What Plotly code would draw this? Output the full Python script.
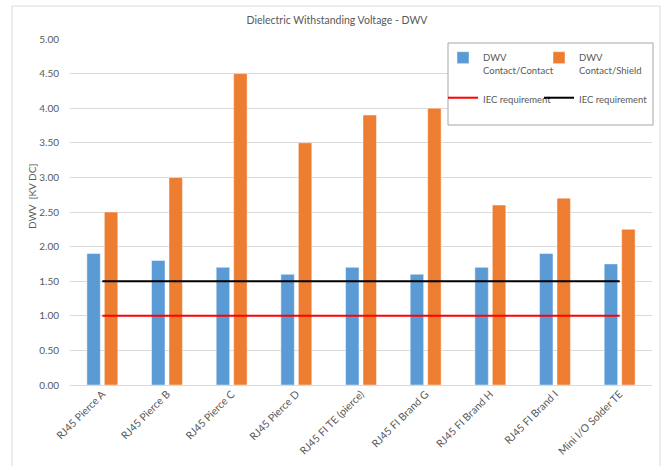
import plotly.graph_objects as go

categories = ["RJ45 Pierce A", "RJ45 Pierce B", "RJ45 Pierce C", "RJ45 Pierce D",
              "RJ45 FI TE (pierce)", "RJ45 FI Brand G", "RJ45 FI Brand H",
              "RJ45 FI Brand I", "Mini I/O Solder TE"]
dwv_contact_contact = [1.9, 1.8, 1.7, 1.6, 1.7, 1.6, 1.7, 1.9, 1.75]
dwv_contact_shield = [2.5, 3.0, 4.5, 3.5, 3.9, 4.0, 2.6, 2.7, 2.25]
iec_req_red = [1.0] * len(categories)
iec_req_black = [1.5] * len(categories)
y_ticks = [0, 0.5, 1.0, 1.5, 2.0, 2.5, 3.0, 3.5, 4.0, 4.5, 5.0]

FONT = "Lato, Carlito, Calibri, sans-serif"
GREY = "#595959"

W, H = 662, 466
L, R, T, B = 70, 10, 39, 81
pw, ph = W - L - R, H - T - B

def px_x(px):
    return (px - L) / pw

def px_y(py):
    return (H - B - py) / ph

fig = go.Figure()
fig.add_trace(go.Bar(x=categories, y=dwv_contact_contact,
                     name="DWV<br>Contact/Contact<br> ", legend="legend",
                     marker=dict(color="#5B9BD5", line=dict(color="rgba(255,255,255,0.45)", width=1))))
fig.add_trace(go.Bar(x=categories, y=dwv_contact_shield,
                     name="DWV<br>Contact/Shield<br> ", legend="legend2",
                     marker=dict(color="#ED7D31", line=dict(color="rgba(255,255,255,0.45)", width=1))))
fig.add_trace(go.Scatter(x=categories, y=iec_req_red, mode="lines", legend="legend",
                         name="IEC requirement", line=dict(color="#FF0000", width=2)))
fig.add_trace(go.Scatter(x=categories, y=iec_req_black, mode="lines", legend="legend2",
                         name="IEC requirement", line=dict(color="#000000", width=2)))

leg_common = dict(orientation="v", xanchor="left", yanchor="top", xref="paper", yref="paper",
                  bgcolor="rgba(0,0,0,0)", borderwidth=0, valign="top",
                  font=dict(family=FONT, size=9.5, color=GREY), itemwidth=30,
                  traceorder="normal", tracegroupgap=0)

fig.update_layout(
    width=W, height=H,
    margin=dict(l=L, r=R, t=T, b=B, autoexpand=False),
    paper_bgcolor="white", plot_bgcolor="white",
    font=dict(family=FONT, size=10, color=GREY),
    barmode="group", bargap=0.46, bargroupgap=0.23,
    title=dict(text="Dielectric Withstanding Voltage - DWV", x=337 / W, xanchor="center",
               y=(H - 20) / H, yanchor="middle", yref="container",
               font=dict(family=FONT, size=10.5, color=GREY)),
    showlegend=True,
    legend=dict(x=px_x(443), y=px_y(45), **leg_common),
    legend2=dict(x=px_x(539), y=px_y(45), **leg_common),
    xaxis=dict(type="category", tickangle=-45, showgrid=False, showline=False,
               ticks="", automargin=False, tickfont=dict(family=FONT, size=10.5, color=GREY)),
    yaxis=dict(range=[0, 5], tickvals=y_ticks, tickformat=".2f",
               showgrid=True, gridcolor="#D9D9D9", gridwidth=1,
               zeroline=True, zerolinecolor="#D9D9D9", zerolinewidth=1,
               showline=False, ticks="", ticklabelstandoff=10, automargin=False,
               tickfont=dict(family=FONT, size=10, color=GREY)),
    annotations=[dict(text="DWV  [KV DC]", textangle=-90, xref="paper", yref="paper",
                      x=px_x(32), y=px_y(197), xanchor="center", yanchor="middle",
                      showarrow=False, font=dict(family=FONT, size=10, color=GREY))],
    shapes=[
        dict(type="rect", xref="paper", yref="paper",
             x0=px_x(12), x1=px_x(660), y0=px_y(470), y1=px_y(6),
             line=dict(color="#D9D9D9", width=1), layer="below"),
        dict(type="rect", xref="paper", yref="paper",
             x0=px_x(448), x1=px_x(653), y0=px_y(125), y1=px_y(43),
             line=dict(color="#A6A6A6", width=1), fillcolor="white", layer="above"),
    ],
)

fig.write_html("out.html", config={"displayModeBar": False},
               post_script="document.body.style.margin='0px';")
